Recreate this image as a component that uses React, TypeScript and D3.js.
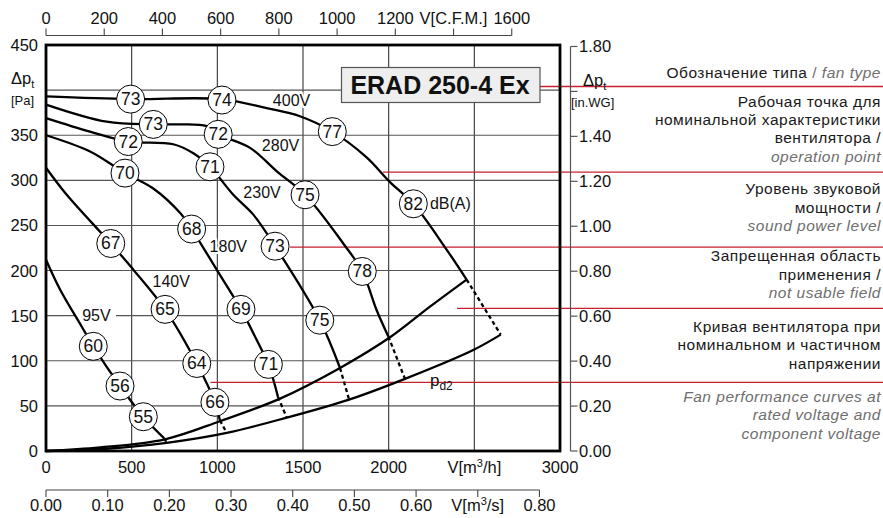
import React from 'react';
import * as d3 from 'd3';

type Pt = [number, number];
type Mark = [number, number, number];

// axes
const flowTicks = [0, 500, 1000, 1500, 2000, 2500, 3000];
const paTicks = [0, 50, 100, 150, 200, 250, 300, 350, 400, 450];
const cfmTicks = [0, 200, 400, 600, 800, 1000, 1200, 1400, 1600];
const m3sTicks = [0, 0.1, 0.2, 0.3, 0.4, 0.5, 0.6, 0.7, 0.8];
const wgTicks = [0, 0.2, 0.4, 0.6, 0.8, 1.0, 1.2, 1.4, 1.6, 1.8];

// fan curves, V [m3/h] vs dp [Pa]
const curve400V: Pt[] = [[0, 393], [494, 390], [1021, 390], [1288, 380], [1482, 371], [1671, 354], [1868, 326], [2008, 298], [2144, 274], [2339, 223], [2455, 190]];
const curve280V: Pt[] = [[0, 384], [354, 365], [626, 362], [782, 362], [938, 360], [1005, 351], [1191, 336], [1347, 310], [1512, 284], [1735, 230], [1846, 199], [1930, 156], [1998, 127]];
const curve230V: Pt[] = [[0, 369], [257, 354], [480, 343], [743, 340], [860, 330], [957, 315], [1093, 284], [1210, 262], [1337, 227], [1598, 145], [1716, 92]];
const curve180V: Pt[] = [[0, 350], [257, 332], [461, 308], [626, 291], [782, 264], [850, 246], [996, 201], [1138, 157], [1230, 123], [1298, 96], [1354, 60]];
const curve140V: Pt[] = [[0, 314], [121, 284], [378, 230], [510, 201], [695, 157], [880, 97], [986, 54], [1015, 34]];
const curve95V: Pt[] = [[0, 212], [82, 179], [208, 138], [276, 116], [432, 72], [568, 38], [690, 14]];

// dB(A) marks on the curves
const db400V: Mark[] = [[494, 390, 73], [1027, 389, 74], [1671, 354, 77], [2144, 274, 82]];
const db280V: Mark[] = [[626, 362, 73], [1005, 351, 72], [1512, 284, 75], [1846, 199, 78]];
const db230V: Mark[] = [[480, 343, 72], [957, 315, 71], [1337, 227, 73], [1598, 145, 75]];
const db180V: Mark[] = [[461, 308, 70], [850, 246, 68], [1138, 157, 69], [1298, 96, 71]];
const db140V: Mark[] = [[378, 230, 67], [695, 157, 65], [880, 97, 64], [986, 54, 66]];
const db95V: Mark[] = [[276, 116, 60], [432, 72, 56], [568, 38, 55]];

// limit curves
const upperLimit: Pt[] = [[0, 0], [315, 4], [695, 13], [1015, 33], [1366, 58], [1716, 92], [2008, 126], [2241, 160], [2455, 190]];
const pd2Curve: Pt[] = [[0, 0], [350, 2.5], [704, 9], [1055, 20], [1405, 37], [1769, 57], [2095, 80], [2494, 112], [2654, 129]];
const dashLinks: Pt[][] = [
  [[2455, 190], [2654, 129]],
  [[1998, 127], [2095, 80]],
  [[1716, 92], [1769, 57]],
  [[1354, 60], [1405, 37]],
  [[1015, 34], [1055, 20]],
  [[690, 14], [705, 9]],
];

const voltLabels: { t: string; v: number; p: number }[] = [
  { t: '400V', v: 1433, p: 389 },
  { t: '280V', v: 1369, p: 339 },
  { t: '230V', v: 1261, p: 287 },
  { t: '180V', v: 1064, p: 227 },
  { t: '140V', v: 731, p: 188 },
  { t: '95V', v: 294, p: 150 },
];

// red pointer lines: start point in chart units
const pointers: Pt[] = [[2883, 404], [1967, 309], [1424, 226], [2399, 158], [961, 76]];

const notes: { y: number; parts: { t: string; g?: boolean; i?: boolean }[] }[] = [
  { y: 78, parts: [{ t: 'Обозначение типа ' }, { t: '/ ', g: true }, { t: 'fan type', g: true, i: true }] },
  { y: 107, parts: [{ t: 'Рабочая точка для' }] },
  { y: 125, parts: [{ t: 'номинальной характеристики' }] },
  { y: 143, parts: [{ t: 'вентилятора /' }] },
  { y: 162, parts: [{ t: 'operation point', g: true, i: true }] },
  { y: 194, parts: [{ t: 'Уровень звуковой' }] },
  { y: 213, parts: [{ t: 'мощности /' }] },
  { y: 231, parts: [{ t: 'sound power level', g: true, i: true }] },
  { y: 261, parts: [{ t: 'Запрещенная область' }] },
  { y: 280, parts: [{ t: 'применения /' }] },
  { y: 298, parts: [{ t: 'not usable field', g: true, i: true }] },
  { y: 332, parts: [{ t: 'Кривая вентилятора при' }] },
  { y: 350, parts: [{ t: 'номинальном и частичном' }] },
  { y: 369, parts: [{ t: 'напряжении' }] },
  { y: 402, parts: [{ t: 'Fan performance curves at', g: true, i: true }] },
  { y: 420, parts: [{ t: 'rated voltage and', g: true, i: true }] },
  { y: 439, parts: [{ t: 'component voltage', g: true, i: true }] },
];

const FONT = '"Liberation Sans", Arial, sans-serif';
const RED = '#c9202f';
const AX = 16.5;

export default function App() {
  const x = d3.scaleLinear().domain([0, 3000]).range([46, 560]);
  const y = d3.scaleLinear().domain([0, 450]).range([451, 45]);
  const xCfm = d3.scaleLinear().domain([0, 3000 / 1.699]).range([46, 560]);
  const xM3s = d3.scaleLinear().domain([0, 3000 / 3600]).range([46, 560]);
  const yWg = d3.scaleLinear().domain([0, 450 / 249.09]).range([451, 45]);

  const line = d3.line<Pt>().x(d => x(d[0])).y(d => y(d[1])).curve(d3.curveCatmullRom.alpha(0.5));
  const straight = d3.line<Pt>().x(d => x(d[0])).y(d => y(d[1]));
  const fanCurves = [curve400V, curve280V, curve230V, curve180V, curve140V, curve95V];
  const marks = [db400V, db280V, db230V, db180V, db140V, db95V].flat();

  const topY = 35.5;
  const botY = 490;
  const axisX = 570.5;

  return (
    <svg width={883} height={518} style={{ position: 'absolute', left: 0, top: 0, background: '#fff' }} fontFamily={FONT}>
      {/* grid */}
      <g stroke="#333" strokeWidth={1.1}>
        {flowTicks.slice(1, -1).map(t => (
          <line key={'gx' + t} x1={x(t)} x2={x(t)} y1={y(450)} y2={y(0)} />
        ))}
        {paTicks.slice(1, -1).map(t => (
          <line key={'gy' + t} x1={x(0)} x2={x(3000)} y1={y(t)} y2={y(t)} stroke="#555" />
        ))}
      </g>

      {/* red pointers */}
      <g stroke={RED} strokeWidth={1.3}>
        {pointers.map((p, i) => (
          <line key={'r' + i} x1={x(p[0])} x2={883} y1={y(p[1])} y2={y(p[1])} />
        ))}
      </g>

      {/* label backgrounds */}
      <rect x={75} y={y(150) - 8} width={41} height={16} fill="#fff" />

      {/* curves */}
      <g fill="none" stroke="#000" strokeWidth={2.3}>
        <path d={line(upperLimit) || ''} />
        <path d={line(pd2Curve) || ''} />
        {dashLinks.map((d, i) => (
          <path key={'dl' + i} d={straight(d) || ''} strokeDasharray="4 3" />
        ))}
        {fanCurves.map((c, i) => (
          <path key={'fc' + i} d={line(c) || ''} />
        ))}
      </g>

      {/* voltage labels */}
      <g fontSize={16} fill="#111" textAnchor="middle">
        {voltLabels.map(l => (
          <text key={l.t} x={x(l.v)} y={y(l.p) + 5.5} stroke="#fff" strokeWidth={4} paintOrder="stroke">{l.t}</text>
        ))}
      </g>
      <text x={x(2241)} y={y(274.5) + 5.5} fontSize={16} fill="#111">dB(A)</text>
      <text x={x(2241)} y={y(72)} fontSize={17} fill="#111">p<tspan fontSize={12} dy={4}>d2</tspan></text>

      {/* frame */}
      <rect x={x(0)} y={y(450)} width={x(3000) - x(0)} height={y(0) - y(450)} fill="none" stroke="#000" strokeWidth={2.8} />

      {/* dB marks */}
      {marks.map((m, i) => (
        <g key={'m' + i} transform={`translate(${x(m[0])},${y(m[1])})`}>
          <circle r={14} fill="#fff" stroke="#000" strokeWidth={1} />
          <text y={6} textAnchor="middle" fontSize={17.5} fill="#111">{m[2]}</text>
        </g>
      ))}

      {/* type box */}
      <rect x={341.5} y={67.5} width={198.5} height={35} fill="#eeeeee" stroke="#555" strokeWidth={1.2} />
      <text x={440} y={94} textAnchor="middle" fontSize={25} fontWeight="bold" fill="#111">ERAD 250-4 Ex</text>

      {/* left axis labels */}
      <g fontSize={AX} fill="#111" textAnchor="end">
        {paTicks.filter(t => t !== 400).map(t => (
          <text key={'ly' + t} x={38} y={y(t) + 6}>{t}</text>
        ))}
      </g>
      <text x={11} y={84} fontSize={AX} fill="#111">Δp<tspan fontSize={11} dy={4}>t</tspan></text>
      <text x={11} y={105} fontSize={13} fill="#111">[Pa]</text>

      {/* bottom m3/h labels */}
      <g fontSize={AX} fill="#111" textAnchor="middle">
        {flowTicks.map(t => (
          <text key={'bx' + t} x={x(t)} y={473}>
            {t === 2500 ? (<>V[m<tspan fontSize={11} dy={-6}>3</tspan><tspan dy={6}>/h]</tspan></>) : t}
          </text>
        ))}
      </g>

      {/* top CFM axis */}
      <g stroke="#444" strokeWidth={1.1}>
        <line x1={xCfm(0)} x2={xCfm(1600)} y1={topY} y2={topY} />
        {cfmTicks.map(t => (
          <line key={'tc' + t} x1={xCfm(t)} x2={xCfm(t)} y1={topY - 7} y2={topY} />
        ))}
      </g>
      <g fontSize={AX} fill="#111" textAnchor="middle">
        {cfmTicks.map(t => (
          <text key={'tl' + t} x={xCfm(t)} y={24}>{t === 1400 ? 'V[C.F.M.]' : t}</text>
        ))}
      </g>

      {/* bottom m3/s axis */}
      <g stroke="#444" strokeWidth={1.1}>
        <line x1={xM3s(0)} x2={xM3s(0.8)} y1={botY} y2={botY} />
        {m3sTicks.map(t => (
          <line key={'bc' + t} x1={xM3s(t)} x2={xM3s(t)} y1={botY} y2={botY + 7} />
        ))}
      </g>
      <g fontSize={AX} fill="#111" textAnchor="middle">
        {m3sTicks.map(t => (
          <text key={'bl' + t} x={xM3s(t)} y={511}>
            {Math.abs(t - 0.7) < 1e-6 ? (<>V[m<tspan fontSize={11} dy={-6}>3</tspan><tspan dy={6}>/s]</tspan></>) : t.toFixed(2)}
          </text>
        ))}
      </g>

      {/* right in.WG axis */}
      <g stroke="#555" strokeWidth={1.2}>
        <line x1={axisX} x2={axisX} y1={yWg(1.8)} y2={yWg(0)} />
        {wgTicks.map(t => (
          <line key={'rw' + t} x1={axisX} x2={axisX + 7} y1={yWg(t)} y2={yWg(t)} />
        ))}
      </g>
      <g fontSize={AX} fill="#111">
        {wgTicks.filter(t => Math.abs(t - 1.6) > 1e-6).map(t => (
          <text key={'rl' + t} x={579} y={yWg(t) + 6}>{t.toFixed(2)}</text>
        ))}
      </g>
      <text x={583} y={86} fontSize={AX} fill="#111">Δp<tspan fontSize={11} dy={4}>t</tspan></text>
      <text x={571} y={107} fontSize={13} fill="#111">[in.WG]</text>

      {/* notes */}
      <g fontSize={15.5} textAnchor="end">
        {notes.map((n, i) => (
          <text key={'n' + i} x={881} y={n.y} letterSpacing={0.5}>
            {n.parts.map((p, j) => (
              <tspan key={j} fill={p.g ? '#6e6e6e' : '#1a1a1a'} fontStyle={p.i ? 'italic' : 'normal'}>{p.t}</tspan>
            ))}
          </text>
        ))}
      </g>
    </svg>
  );
}
